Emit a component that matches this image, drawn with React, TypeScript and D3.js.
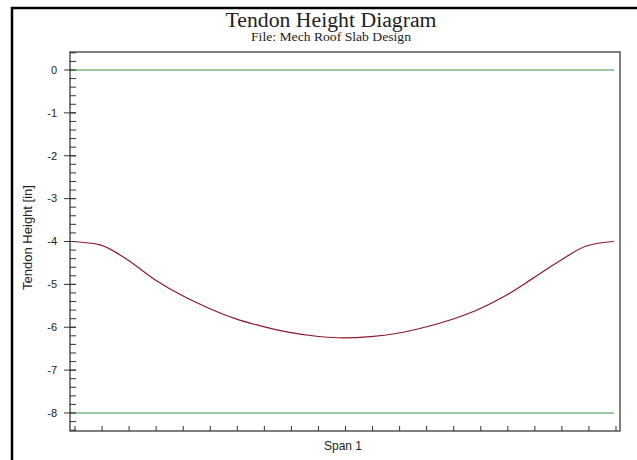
import React from 'react';
import * as d3 from 'd3';

// tendon profile, read at each of the 20 span divisions
const stations = d3.range(0, 21);
const heights = [
  -4.0, -4.08, -4.42, -4.88, -5.25, -5.55, -5.8, -5.98, -6.12, -6.21, -6.25,
  -6.22, -6.14, -6.0, -5.82, -5.58, -5.26, -4.86, -4.45, -4.1, -4.0,
];
const limitLines = [0, -8];
const yTickLabels = [0, -1, -2, -3, -4, -5, -6, -7, -8];
const spanLabel = 'Span 1';

const W = 637;
const H = 460;

export default function App() {
  // set the dimensions of the plot box
  const plot = { left: 70, right: 620, top: 52, bottom: 431 };

  const x = d3.scaleLinear().domain([0, 20]).range([73, 614]);
  const y = d3.scaleLinear().domain([-8, 0]).range([413, 70]);

  const minorTicks = d3.range(-42, 3).map((i) => i / 5);

  const line = d3
    .line<number>()
    .curve(d3.curveMonotoneX)
    .x((d, i) => x(stations[i]))
    .y((d) => y(d));

  const sans = 'Liberation Sans, Arial, sans-serif';
  const serif = 'Liberation Serif, Times New Roman, serif';

  return (
    <svg
      width={W}
      height={H}
      style={{ position: 'absolute', left: 0, top: 0, background: '#fff' }}
    >
      {/* outer frame */}
      <rect x={12} y={8} width={700} height={500} fill="none" stroke="#000" strokeWidth={2.5} />

      {/* titles */}
      <text x={331} y={27} textAnchor="middle" fontFamily={serif} fontSize={20} textLength={211} lengthAdjust="spacingAndGlyphs" fill="#222">
        Tendon Height Diagram
      </text>
      <text x={331} y={41} textAnchor="middle" fontFamily={serif} fontSize={12} textLength={160} lengthAdjust="spacingAndGlyphs" fill="#222">
        File: Mech Roof Slab Design
      </text>

      {/* plot box */}
      <rect
        x={plot.left}
        y={plot.top}
        width={plot.right - plot.left}
        height={plot.bottom - plot.top}
        fill="#fff"
        stroke="#555"
        strokeWidth={1.5}
      />

      {/* y ticks */}
      {minorTicks.map((t) => (
        <line key={'m' + t} x1={plot.left} x2={plot.left + 6} y1={y(t)} y2={y(t)} stroke="#333" strokeWidth={1} />
      ))}
      {yTickLabels.map((t) => (
        <g key={'t' + t}>
          <line x1={plot.left - 6} x2={plot.left + 6} y1={y(t)} y2={y(t)} stroke="#333" strokeWidth={1} />
          <text x={57} y={y(t)} dy="0.35em" textAnchor="end" fontFamily={sans} fontSize={11} fill="#222">
            {t}
          </text>
        </g>
      ))}

      {/* x ticks */}
      {stations.map((s) => (
        <line key={'x' + s} x1={x(s) + 2} x2={x(s) + 2} y1={plot.bottom} y2={plot.bottom - 5} stroke="#333" strokeWidth={1} />
      ))}

      {/* limit lines */}
      {limitLines.map((v) => (
        <line key={'l' + v} x1={x(0) - 1} x2={x(20)} y1={y(v)} y2={y(v)} stroke="#3a963a" strokeWidth={1.2} />
      ))}

      {/* tendon */}
      <path d={line(heights) || ''} fill="none" stroke="#8b1a2a" strokeWidth={1.2} />

      {/* axis titles */}
      <text x={(plot.left + plot.right) / 2 - 2} y={450} textAnchor="middle" fontFamily={sans} fontSize={12} fill="#222">
        {spanLabel}
      </text>
      <text
        transform={`translate(32, ${(plot.top + plot.bottom) / 2 - 4}) rotate(-90)`}
        textAnchor="middle"
        fontFamily={sans}
        fontSize={13}
        fill="#222"
      >
        Tendon Height [in]
      </text>
    </svg>
  );
}
